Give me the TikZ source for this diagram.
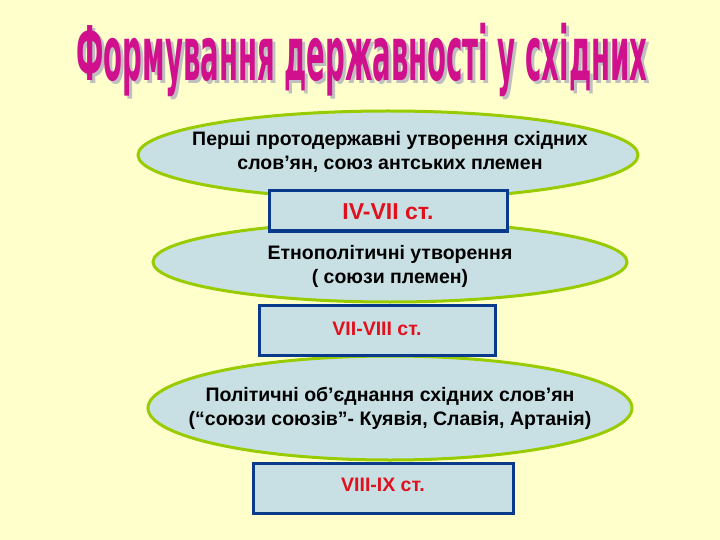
\documentclass[tikz,border=0pt]{standalone}
\usepackage{fontspec}
\setmainfont{Liberation Sans}
\newfontfamily\titlefont{DejaVu Sans}
\definecolor{bg}{HTML}{FFFFCC}
\definecolor{efill}{HTML}{C8E0E4}
\definecolor{eline}{HTML}{99CC00}
\definecolor{rline}{HTML}{0A3A8C}
\definecolor{tred}{HTML}{E0101C}
\definecolor{tmag}{HTML}{D0108C}
\begin{document}
\begin{tikzpicture}[x=1pt,y=-1pt,
 ellbox/.style={fill=efill,draw=eline,line width=3pt},
 datebox/.style={draw=rline,line width=3pt,fill=efill},
 etext/.style={font=\bfseries\fontsize{19.5}{24}\selectfont,align=center},
 dtext/.style={text=tred,font=\bfseries\fontsize{19.5}{24}\selectfont}]
\fill[bg] (0,0) rectangle (720,540);
\useasboundingbox (0,0) rectangle (720,540);
\node[text=black!25,font=\titlefont\bfseries\fontsize{52}{56}\selectfont,xscale=0.53,yscale=1.45] at (365,63) {Формування державності у східних};
\node[text=tmag,font=\titlefont\bfseries\fontsize{52}{56}\selectfont,xscale=0.53,yscale=1.45] (title) at (362,60) {Формування державності у східних};
\filldraw[ellbox] (388,155) ellipse [x radius=250,y radius=44];
\node[etext] (e1) at (390,152) {Перші протодержавні утворення східних\\слов’ян, союз антських племен};
\filldraw[ellbox] (390,262) ellipse [x radius=237,y radius=40];
\node[etext] (e2) at (390,266) {Етнополітичні утворення\\( союзи племен)};
\filldraw[ellbox] (390,408) ellipse [x radius=242,y radius=52];
\node[etext] (e3) at (390,408) {Політичні об’єднання східних слов’ян\\(“союзи союзів”- Куявія, Славія, Артанія)};
\draw[datebox] (269,191) rectangle (507,231);
\node[dtext,font=\bfseries\fontsize{23}{26}\selectfont] (d1) at (388,212) {IV-VII ст.};
\draw[datebox] (259,305) rectangle (495,355);
\node[dtext] (d2) at (377,329) {VII-VIII ст.};
\draw[datebox] (253,463) rectangle (513,513);
\node[dtext] (d3) at (383,485) {VIII-IX ст.};
\end{tikzpicture}
\end{document}
